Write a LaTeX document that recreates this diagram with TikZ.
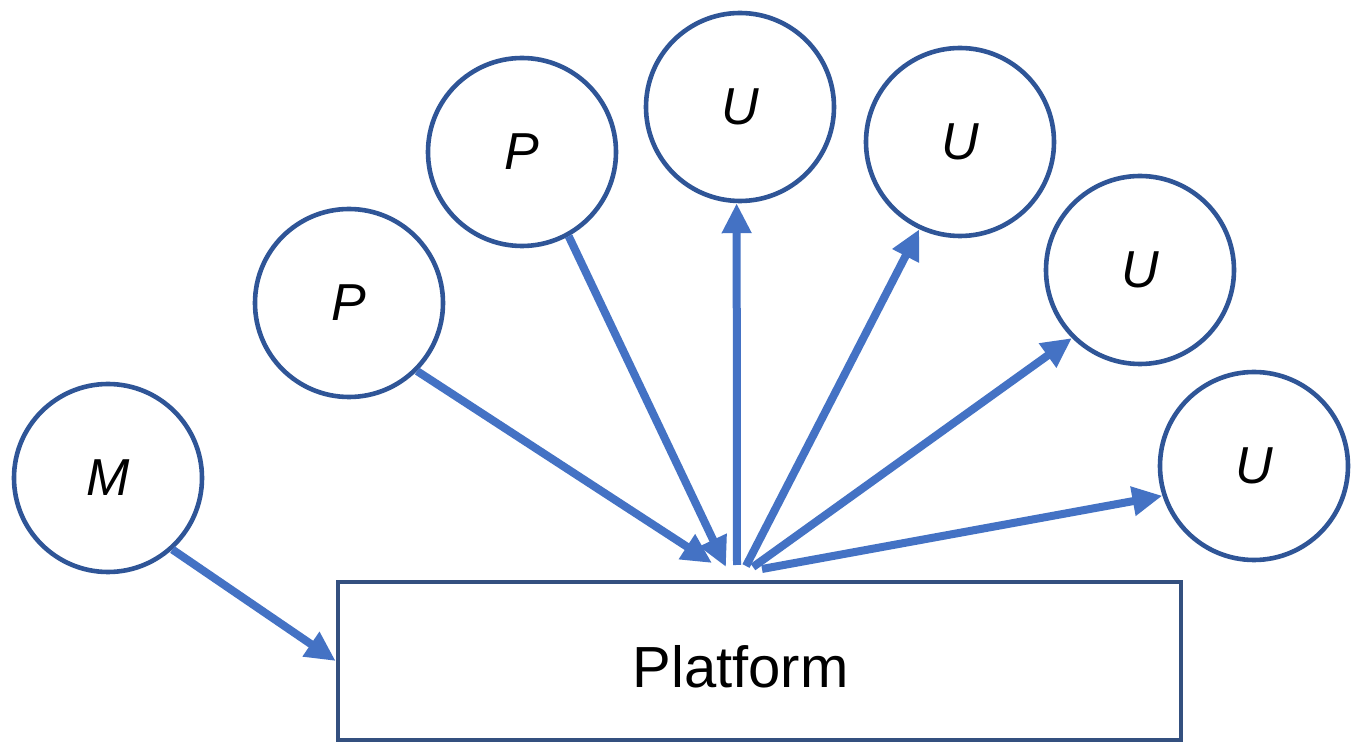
\documentclass[tikz,border=0pt]{standalone}
\usepackage{fontspec}
\setmainfont{Liberation Sans}
\usetikzlibrary{arrows.meta}
\definecolor{arrowblue}{HTML}{4472C4}
\definecolor{ringblue}{HTML}{2F5597}
\definecolor{boxblue}{HTML}{34507F}
\tikzset{
  agent/.style={circle, draw=ringblue, line width=2.3pt, minimum size=94pt, inner sep=0pt,
    font=\fontsize{26}{30}\selectfont\itshape, fill=white},
  platbox/.style={rectangle, draw=boxblue, line width=2.3pt, minimum width=421.5pt,
    minimum height=79pt, inner sep=0pt, fill=white},
  flow/.style={draw=arrowblue, line width=4pt, -{Triangle[length=15pt,width=14pt]}}
}
\begin{document}
\begin{tikzpicture}[x=0.5pt,y=-0.5pt]
\useasboundingbox (0,0) rectangle (1357,743);
\fill[white] (0,0) rectangle (1357,743);
% nodes
\node[platbox, label={[font=\fontsize{29}{32}\selectfont, xshift=-9.5pt, yshift=-3pt]center:Platform}] (plat) at (759.5,661) {};
\node[agent] (m)  at (108,478)  {M};
\node[agent] (p1) at (349,303)  {P};
\node[agent] (p2) at (522,152)  {P};
\node[agent] (u1) at (740,107)  {U};
\node[agent] (u2) at (960,142)  {U};
\node[agent] (u3) at (1140,270) {U};
\node[agent] (u4) at (1254,466) {U};
% hub points just above the platform
\coordinate (i1) at (712,563);
\coordinate (i2) at (726,567);
\coordinate (h0) at (737,565);
\coordinate (h1) at (746,566);
\coordinate (h2) at (753,567);
\coordinate (h3) at (762,569);
% connectors
\draw[flow] (m.312) -- (plat.west);
\draw[flow] (p1.315) -- (i1);
\draw[flow] (p2.299) -- (i2);
\draw[flow] (h0) -- (u1.268);
\draw[flow] (h1) -- (u2.245);
\draw[flow] (h2) -- (u3.225);
\draw[flow] (h3) -- (u4.198);
\end{tikzpicture}
\end{document}
